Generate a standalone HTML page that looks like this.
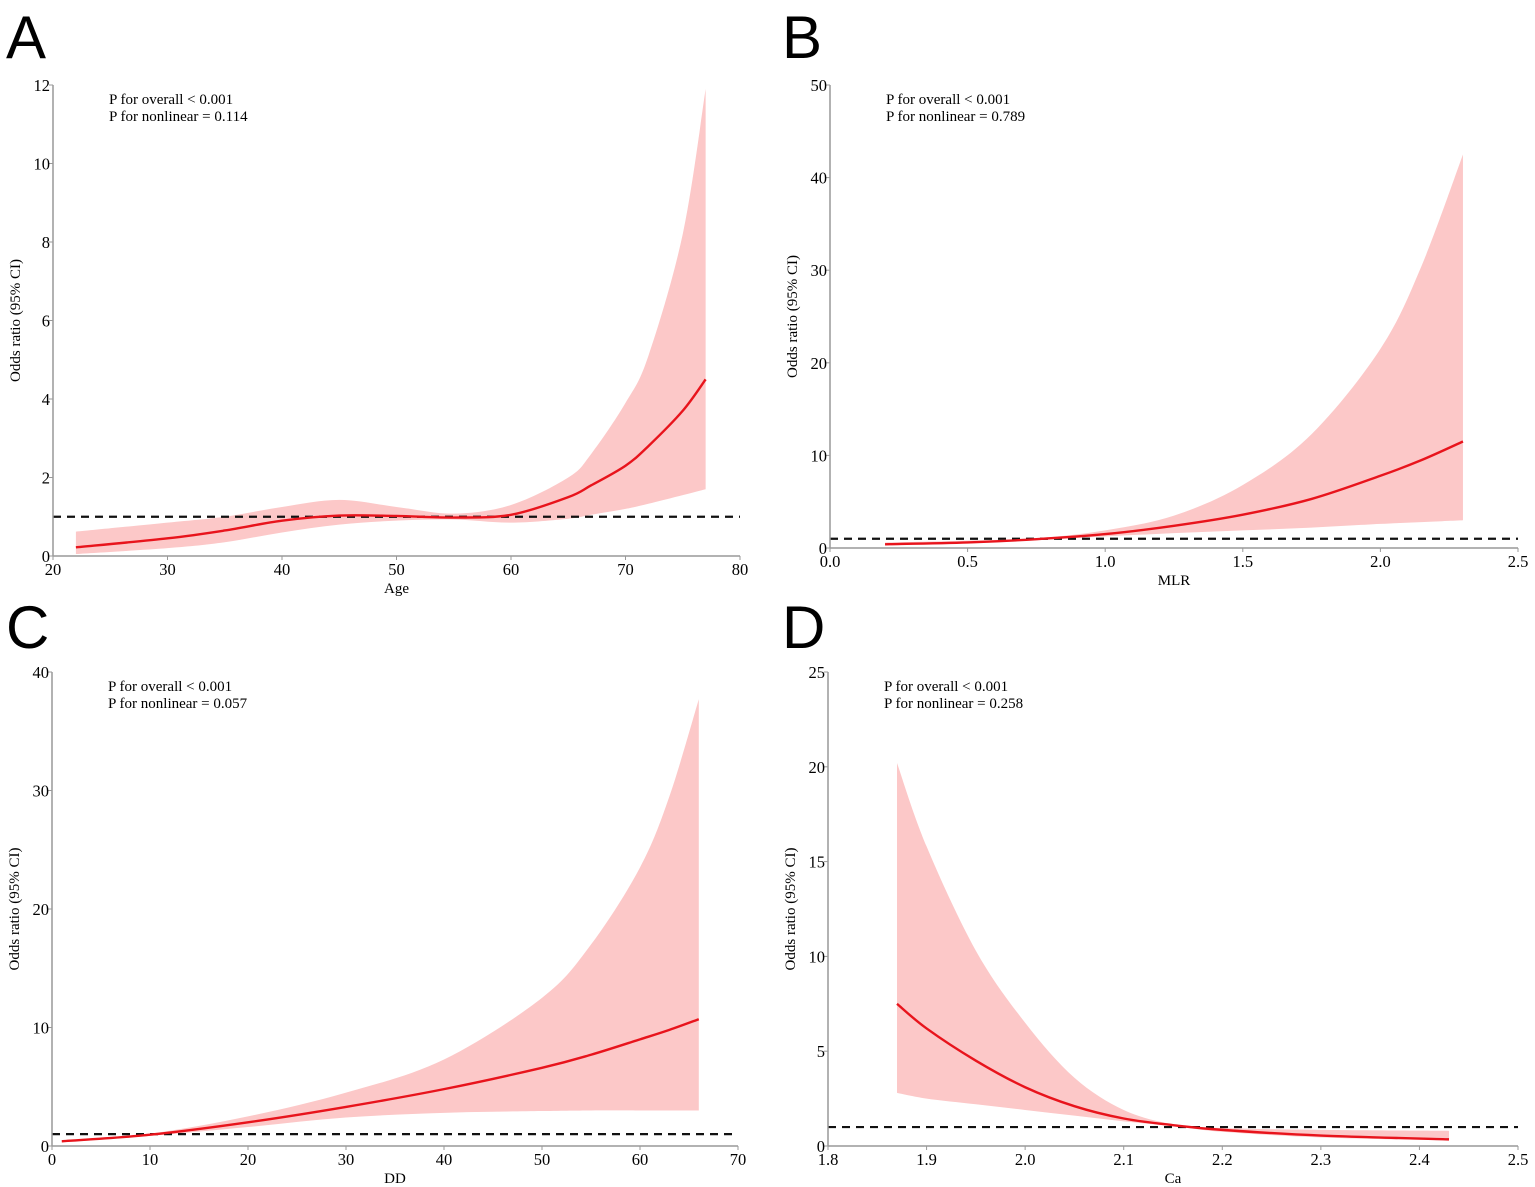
<!DOCTYPE html>
<html><head><meta charset="utf-8"><style>
body{margin:0;background:#fff;}
svg{display:block;font-family:"Liberation Serif",serif;}
.lab{font-family:"Liberation Sans",sans-serif;font-size:60px;}
</style></head><body>
<svg id="fig" width="1535" height="1187" viewBox="0 0 1535 1187"></svg>
<script>
// Panel A: Age
const aX=[22,30,35,40,45,50,55,60,65,67,70,72,75,77];
const aFit=[0.22,0.45,0.65,0.9,1.03,1.02,0.98,1.05,1.5,1.8,2.3,2.8,3.7,4.5];
const aLo=[0.05,0.2,0.35,0.6,0.8,0.9,0.93,0.85,0.95,1.05,1.2,1.33,1.55,1.7];
const aHi=[0.62,0.85,1.0,1.25,1.43,1.25,1.08,1.3,2.0,2.6,3.9,5.1,8.2,11.9];
const aXTicks=[20,30,40,50,60,70,80];
const aYTicks=[0,2,4,6,8,10,12];
// Panel B: MLR
const bX=[0.2,0.5,0.75,1.0,1.25,1.5,1.75,2.0,2.15,2.3];
const bFit=[0.4,0.6,0.95,1.5,2.4,3.6,5.3,7.8,9.5,11.5];
const bLo=[0.3,0.5,0.85,1.25,1.6,1.9,2.2,2.6,2.8,3.0];
const bHi=[0.6,0.8,1.05,1.9,3.5,6.8,12.3,21.5,30.5,42.5];
const bXTicks=["0.0","0.5","1.0","1.5","2.0","2.5"];
const bYTicks=[0,10,20,30,40,50];
// Panel C: DD
const cX=[1,10,20,30,40,50,55,60,63,66];
const cFit=[0.4,0.95,2.0,3.3,4.8,6.6,7.7,9,9.8,10.7];
const cLo=[0.3,0.85,1.6,2.4,2.8,2.95,3.0,3.0,3.0,3.0];
const cHi=[0.5,1.05,2.5,4.5,7.3,12.5,17,23.5,29.5,37.7];
const cXTicks=[0,10,20,30,40,50,60,70];
const cYTicks=[0,10,20,30,40];
// Panel D: Ca
const dX=[1.87,1.9,1.95,2.0,2.05,2.1,2.15,2.2,2.3,2.43];
const dFit=[7.5,6.2,4.5,3.1,2.1,1.45,1.1,0.85,0.55,0.35];
const dLo=[2.8,2.5,2.2,1.9,1.6,1.3,1.05,0.75,0.45,0.3];
const dHi=[20.2,15.8,10.3,6.5,3.6,1.9,1.15,0.95,0.85,0.8];
const dXTicks=["1.8","1.9","2.0","2.1","2.2","2.3","2.4","2.5"];
const dYTicks=[0,5,10,15,20,25];

const NS="http://www.w3.org/2000/svg";
const svg=document.getElementById('fig');
function mk(tag,attrs,parent){const e=document.createElementNS(NS,tag);for(const k in attrs)e.setAttribute(k,attrs[k]);(parent||svg).appendChild(e);return e;}
function smooth(pts){let d="M"+pts[0][0]+","+pts[0][1];for(let i=0;i<pts.length-1;i++){const p0=pts[i-1]||pts[i],p1=pts[i],p2=pts[i+1],p3=pts[i+2]||p2;
d+=" C"+(p1[0]+(p2[0]-p0[0])/6)+","+(p1[1]+(p2[1]-p0[1])/6)+" "+(p2[0]-(p3[0]-p1[0])/6)+","+(p2[1]-(p3[1]-p1[1])/6)+" "+p2[0]+","+p2[1];}return d;}
function panel(o){
 const g=mk('g',{});
 
 
 const xs=v=>o.x0+(v-o.xmin)/(o.xmax-o.xmin)*(o.x1-o.x0);
 const ys=v=>o.y0-(v-o.ymin)/(o.ymax-o.ymin)*(o.y0-o.yt);
 const lab=mk('text',{x:o.lx,y:o.ly,class:'lab'},g);lab.textContent=o.letter;
 
 const up=o.X.map((x,i)=>[xs(x),ys(o.Hi[i])]);const lo=o.X.map((x,i)=>[xs(x),ys(o.Lo[i])]).reverse();
 let d=smooth(up)+" L"+lo[0][0]+","+lo[0][1]+smooth(lo).replace(/^M[^ ]+/,"")+"Z";
 const band=mk('path',{d:d,fill:'#fcc8c8',stroke:'none'},g);
 
 const ref=mk('line',{x1:o.x0,x2:o.x1,y1:ys(1),y2:ys(1),stroke:'#111','stroke-width':2.2,'stroke-dasharray':'8,6'},g);
 
 const fit=mk('path',{d:smooth(o.X.map((x,i)=>[xs(x),ys(o.Fit[i])])),fill:'none',stroke:'#e8141c','stroke-width':2.4},g);
 
 mk('line',{x1:o.x0,x2:o.x1,y1:o.y0,y2:o.y0,stroke:'#999','stroke-width':1.5},g);
 mk('line',{x1:o.x0,x2:o.x0,y1:o.yt,y2:o.y0,stroke:'#999','stroke-width':1.5},g);
 o.xt.forEach(t=>{const x=xs(+t);mk('line',{x1:x,x2:x,y1:o.y0,y2:o.y0+4,stroke:'#999'},g);
  const tx=mk('text',{x:x,y:o.y0+19,'text-anchor':'middle','font-size':16.5},g);tx.textContent=t;
  });
 o.yt2.forEach(t=>{const y=ys(t);mk('line',{x1:o.x0-4,x2:o.x0,y1:y,y2:y,stroke:'#999'},g);
  const tx=mk('text',{x:o.x0-3,y:y+6,'text-anchor':'end','font-size':16.5},g);tx.textContent=t;
  });
 const xt=mk('text',{x:(o.x0+o.x1)/2,y:o.y0+37,'text-anchor':'middle','font-size':15},g);xt.textContent=o.xtitle;
 
 const cy=(o.y0+o.yt)/2;
 const yt=mk('text',{x:o.x0-33,y:cy,'text-anchor':'middle','font-size':15,transform:'rotate(-90 '+(o.x0-33)+' '+cy+')'},g);yt.textContent='Odds ratio (95% CI)';
 
 const p1=mk('text',{x:o.x0+56,y:o.yt+19,'font-size':15},g);p1.textContent='P for overall < 0.001';
 
 const p2=mk('text',{x:o.x0+56,y:o.yt+36,'font-size':15},g);p2.textContent='P for nonlinear = '+o.pnl;
 
}
panel({letter:'A',lx:6,ly:58,x0:53,x1:740,y0:556,yt:85,xmin:20,xmax:80,ymin:0,ymax:12,X:aX,Fit:aFit,Lo:aLo,Hi:aHi,xt:aXTicks,yt2:aYTicks,xtitle:'Age',pnl:'0.114'});
panel({letter:'B',lx:782,ly:58,x0:830,x1:1518,y0:548,yt:85,xmin:0,xmax:2.5,ymin:0,ymax:50,X:bX,Fit:bFit,Lo:bLo,Hi:bHi,xt:bXTicks,yt2:bYTicks,xtitle:'MLR',pnl:'0.789'});
panel({letter:'C',lx:6,ly:648,x0:52,x1:738,y0:1146,yt:672,xmin:0,xmax:70,ymin:0,ymax:40,X:cX,Fit:cFit,Lo:cLo,Hi:cHi,xt:cXTicks,yt2:cYTicks,xtitle:'DD',pnl:'0.057'});
panel({letter:'D',lx:782,ly:648,x0:828,x1:1518,y0:1146,yt:672,xmin:1.8,xmax:2.5,ymin:0,ymax:25,X:dX,Fit:dFit,Lo:dLo,Hi:dHi,xt:dXTicks,yt2:dYTicks,xtitle:'Ca',pnl:'0.258'});
</script>
</body></html>
